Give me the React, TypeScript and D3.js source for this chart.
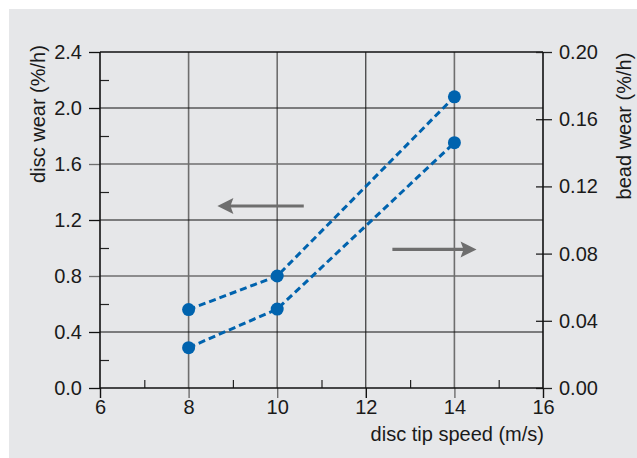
import React, { useEffect, useRef } from "react";
import * as d3 from "d3";

const speeds = [8, 10, 14];
const discWear = [0.56, 0.8, 2.08];
const beadWear = [0.024, 0.047, 0.146];
const xTicks = [6, 8, 10, 12, 14, 16];
const xMinorTicks = [7, 9, 11, 13, 15];
const leftTicks = [0, 0.4, 0.8, 1.2, 1.6, 2.0, 2.4];
const leftMinorTicks = [0.2, 0.6, 1.0, 1.4, 1.8, 2.2];
const rightTicks = [0, 0.04, 0.08, 0.12, 0.16, 0.2];
const xTitle = "disc tip speed (m/s)";
const leftTitle = "disc wear (%/h)";
const rightTitle = "bead wear (%/h)";

const W = 637;
const H = 458;
const M = { left: 100, right: 543, top: 52, bottom: 388 };
const BG = "#e6e7e9";
const BLUE = "#0063ae";
const GRAY = "#6e6e6e";
const FONT = "'Liberation Sans', Arial, sans-serif";
const FS = 20;

export default function App() {
  const ref = useRef<SVGSVGElement | null>(null);

  useEffect(() => {
    const svg = d3.select(ref.current);
    svg.selectAll("*").remove();

    const x = d3.scaleLinear().domain([6, 16]).range([M.left, M.right]);
    const yL = d3.scaleLinear().domain([0, 2.4]).range([M.bottom, M.top]);
    const yR = d3.scaleLinear().domain([0, 0.2]).range([M.bottom, M.top]);

    svg.append("rect").attr("x", 9).attr("y", 9).attr("width", W - 9).attr("height", H - 9).attr("fill", BG);

    const grayX = new Set([8, 10, 14]);
    const grayY = new Set([0.8, 1.6]);

    const g = svg.append("g");
    xTicks.filter((v) => v !== 6 && v !== 16).forEach((v) => {
      g.append("line")
        .attr("x1", x(v)).attr("x2", x(v))
        .attr("y1", M.top).attr("y2", M.bottom)
        .attr("stroke", grayX.has(v) ? GRAY : "#111")
        .attr("stroke-width", grayX.has(v) ? 1.6 : 1);
    });
    leftTicks.filter((v) => v !== 0 && v !== 2.4).forEach((v) => {
      g.append("line")
        .attr("x1", M.left).attr("x2", M.right)
        .attr("y1", yL(v)).attr("y2", yL(v))
        .attr("stroke", grayY.has(v) ? GRAY : "#111")
        .attr("stroke-width", grayY.has(v) ? 1.6 : 1);
    });
    g.append("line").attr("x1", M.left).attr("x2", M.right).attr("y1", M.top).attr("y2", M.top)
      .attr("stroke", "#111").attr("stroke-width", 1.5);

    const styleAxis = (sel: any) => {
      sel.select(".domain").remove();
      sel.selectAll("text").attr("font-family", FONT).attr("font-size", FS).attr("fill", "#1a1a1a");
    };

    const la = svg.append("g").attr("transform", `translate(${M.left},0)`)
      .call(d3.axisLeft(yL).tickValues(leftTicks).tickSize(11).tickPadding(7).tickFormat(d3.format(".1f")));
    styleAxis(la);
    la.selectAll("line").attr("stroke", (d: any) => (grayY.has(d) ? GRAY : "#111")).attr("stroke-width", 1.3);

    const lm = svg.append("g").attr("transform", `translate(${M.left},0)`)
      .call(d3.axisRight(yL).tickValues(leftMinorTicks).tickSize(9).tickFormat(() => ""));
    lm.select(".domain").remove();
    lm.selectAll("line").attr("stroke", "#222").attr("stroke-width", 1.2);

    const ba = svg.append("g").attr("transform", `translate(0,${M.bottom})`)
      .call(d3.axisBottom(x).tickValues(xTicks).tickSize(10).tickPadding(2).tickFormat(d3.format("d")));
    styleAxis(ba);
    ba.selectAll("line").attr("stroke", (d: any) => (grayX.has(d) ? GRAY : "#111")).attr("stroke-width", 1.4);

    const bm = svg.append("g").attr("transform", `translate(0,${M.bottom})`)
      .call(d3.axisTop(x).tickValues(xMinorTicks).tickSize(8).tickFormat(() => ""));
    bm.select(".domain").remove();
    bm.selectAll("line").attr("stroke", "#222").attr("stroke-width", 1.2);

    const ra = svg.append("g").attr("transform", `translate(${M.right},0)`)
      .call(d3.axisRight(yR).tickValues(rightTicks).tickSize(9).tickPadding(7).tickFormat(d3.format(".2f")));
    styleAxis(ra);
    ra.selectAll("line").attr("x1", -7).attr("stroke", "#222").attr("stroke-width", 1.3);

    svg.append("line").attr("x1", M.left).attr("x2", M.left).attr("y1", M.top).attr("y2", M.bottom + 0.5)
      .attr("stroke", "#111").attr("stroke-width", 1.6);
    svg.append("line").attr("x1", M.right).attr("x2", M.right).attr("y1", M.top).attr("y2", M.bottom + 0.5)
      .attr("stroke", "#111").attr("stroke-width", 1.6);
    svg.append("line").attr("x1", M.left).attr("x2", M.right).attr("y1", M.bottom).attr("y2", M.bottom)
      .attr("stroke", "#111").attr("stroke-width", 1.6);

    const arrow = (x1: number, x2: number, yy: number) => {
      const dir = Math.sign(x2 - x1);
      svg.append("line").attr("x1", x1).attr("x2", x2 - dir * 12).attr("y1", yy).attr("y2", yy)
        .attr("stroke", GRAY).attr("stroke-width", 3.2);
      svg.append("path")
        .attr("d", `M${x2},${yy} L${x2 - dir * 16},${yy - 8} L${x2 - dir * 13},${yy} L${x2 - dir * 16},${yy + 8} Z`)
        .attr("fill", GRAY);
    };
    arrow(x(10.6), x(8.65), yL(1.3));
    arrow(x(12.6), x(14.5), yR(0.0825));

    const lineL = d3.line<number>().x((_, i) => x(speeds[i])).y((d) => yL(d));
    const lineR = d3.line<number>().x((_, i) => x(speeds[i])).y((d) => yR(d));
    svg.append("path").attr("d", lineL(discWear) as string).attr("fill", "none")
      .attr("stroke", BLUE).attr("stroke-width", 3).attr("stroke-dasharray", "7,4");
    svg.append("path").attr("d", lineR(beadWear) as string).attr("fill", "none")
      .attr("stroke", BLUE).attr("stroke-width", 3).attr("stroke-dasharray", "7,4");
    svg.append("g").selectAll("circle").data(discWear).enter().append("circle")
      .attr("cx", (_, i) => x(speeds[i])).attr("cy", (d) => yL(d)).attr("r", 6.5).attr("fill", BLUE);
    svg.append("g").selectAll("circle").data(beadWear).enter().append("circle")
      .attr("cx", (_, i) => x(speeds[i])).attr("cy", (d) => yR(d)).attr("r", 6.5).attr("fill", BLUE);

    svg.append("text").attr("x", M.right + 1).attr("y", 441).attr("text-anchor", "end")
      .attr("font-family", FONT).attr("font-size", FS).attr("fill", "#1a1a1a").text(xTitle);
    svg.append("text").attr("transform", `translate(45,${114}) rotate(-90)`).attr("text-anchor", "middle")
      .attr("font-family", FONT).attr("font-size", FS).attr("fill", "#1a1a1a").text(leftTitle);
    svg.append("text").attr("transform", `translate(631,${126}) rotate(-90)`).attr("text-anchor", "middle")
      .attr("font-family", FONT).attr("font-size", FS).attr("fill", "#1a1a1a").text(rightTitle);
  }, []);

  return (
    <svg ref={ref} width={W} height={H}
      style={{ position: "absolute", left: 0, top: 0, display: "block", background: "#fff" }} />
  );
}
